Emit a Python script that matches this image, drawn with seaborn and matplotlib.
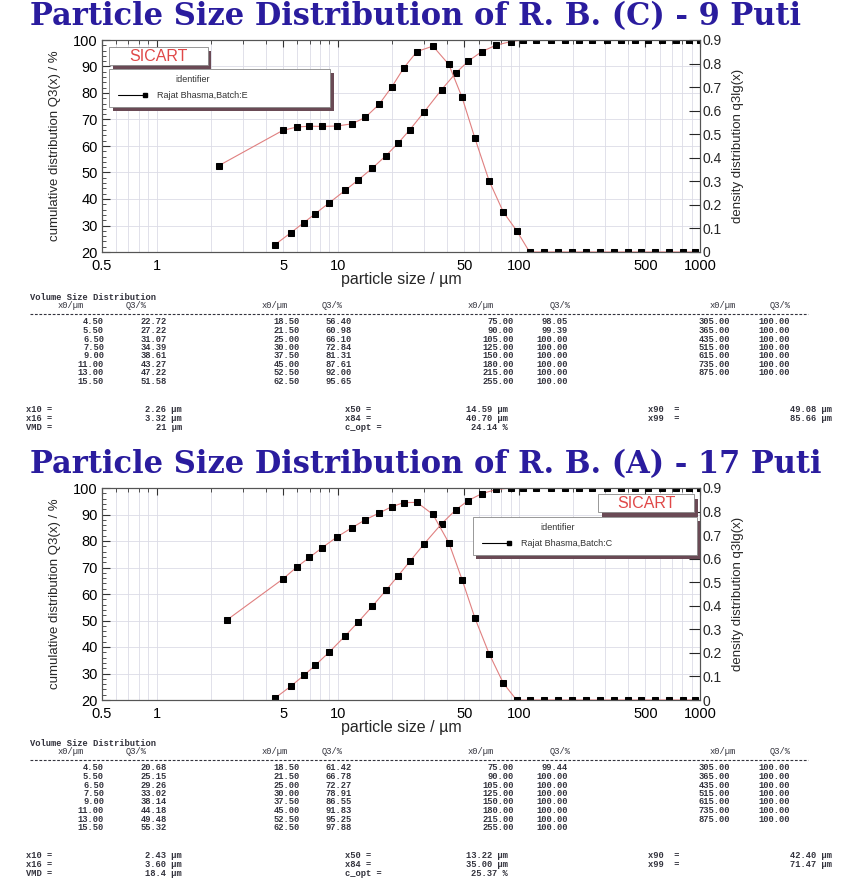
import matplotlib
matplotlib.use("Agg")
import matplotlib.pyplot as plt
import seaborn as sns
from matplotlib.lines import Line2D
from matplotlib.patches import Rectangle
from matplotlib.ticker import FixedLocator, NullFormatter, MultipleLocator

# table sizes x0 / um
sizes = [4.5, 5.5, 6.5, 7.5, 9.0, 11.0, 13.0, 15.5, 18.5, 21.5, 25.0, 30.0,
         37.5, 45.0, 52.5, 62.5, 75.0, 90.0, 105.0, 125.0, 150.0, 180.0,
         215.0, 255.0, 305.0, 365.0, 435.0, 515.0, 615.0, 735.0, 875.0]

# cumulative Q3 / %  (9 Puti, batch E)
q3_e = [22.72, 27.22, 31.07, 34.39, 38.61, 43.27, 47.22, 51.58, 56.40, 60.98,
        66.10, 72.84, 81.31, 87.61, 92.00, 95.65, 98.05, 99.39, 100.00, 100.00,
        100.00, 100.00, 100.00, 100.00, 100.00, 100.00, 100.00, 100.00, 100.00,
        100.00, 100.00]

# cumulative Q3 / %  (17 Puti, batch C)
q3_c = [20.68, 25.15, 29.26, 33.02, 38.14, 44.18, 49.48, 55.32, 61.42, 66.78,
        72.27, 78.91, 86.55, 91.83, 95.25, 97.88, 99.44, 100.00, 100.00, 100.00,
        100.00, 100.00, 100.00, 100.00, 100.00, 100.00, 100.00, 100.00, 100.00,
        100.00, 100.00]

# last cumulative point at the top of the range
end_size = [1000.0]
end_q3 = [100.0]

# density q3lg
dens_x_e = [2.2, 4.97, 5.98, 6.98, 8.22, 9.95, 11.96, 14.19, 16.93, 19.94,
            23.19, 27.39, 33.54, 41.08, 48.61, 57.28, 68.47, 82.16, 97.21,
            114.6, 136.9, 164.3, 196.7, 234.1, 278.9, 333.7, 398.5, 473.3,
            562.8, 672.4, 802.0, 935.0]
dens_e = [0.366, 0.516, 0.531, 0.534, 0.533, 0.535, 0.544, 0.571, 0.627, 0.702,
          0.782, 0.851, 0.874, 0.796, 0.656, 0.482, 0.303, 0.169, 0.091,
          0, 0, 0, 0, 0, 0, 0, 0, 0, 0, 0, 0, 0]

dens_x_c = [2.45, 4.97, 5.98, 6.98, 8.22, 9.95, 11.96, 14.19, 16.93, 19.94,
            23.19, 27.39, 33.54, 41.08, 48.61, 57.28, 68.47, 82.16, 97.21,
            114.6, 136.9, 164.3, 196.7, 234.1, 278.9, 333.7, 398.5, 473.3,
            562.8, 672.4, 802.0, 935.0]
dens_c = [0.34, 0.513, 0.566, 0.605, 0.647, 0.693, 0.731, 0.765, 0.794, 0.821,
          0.838, 0.839, 0.788, 0.667, 0.511, 0.347, 0.197, 0.071,
          0, 0, 0, 0, 0, 0, 0, 0, 0, 0, 0, 0, 0, 0]

stats_e = [("x10 =", "2.26 µm", "x50 =", "14.59 µm", "x90  =", "49.08 µm"),
           ("x16 =", "3.32 µm", "x84 =", "40.70 µm", "x99  =", "85.66 µm"),
           ("VMD =", "21 µm", "c_opt =", "24.14 %", "", "")]
stats_c = [("x10 =", "2.43 µm", "x50 =", "13.22 µm", "x90  =", "42.40 µm"),
           ("x16 =", "3.60 µm", "x84 =", "35.00 µm", "x99  =", "71.47 µm"),
           ("VMD =", "18.4 µm", "c_opt =", "25.37 %", "", "")]

x_ticks = [0.5, 1, 5, 10, 50, 100, 500, 1000]
x_tick_labels = ["0.5", "1", "5", "10", "50", "100", "500", "1000"]

W, H = 842, 890
RED = "#e08080"
BLUE = "#2a1c9e"
TXT = "#33333d"
MONO = "Liberation Mono"
SANS = "Liberation Sans"


def px(x, y):
    return x / W, 1 - y / H


def draw_panel(fig, top, title, q3, dx, dy, label, right_side):
    fig.text(*px(30, top - 23), title, fontsize=22, fontweight="bold",
             family="DejaVu Serif", color=BLUE, va="center", ha="left")

    left, bottom = px(102, top + 212)
    ax = fig.add_axes([left, bottom, 598 / W, 212 / H])
    ax2 = ax.twinx()

    sns.lineplot(x=sizes + end_size, y=q3 + end_q3, ax=ax, color=RED, lw=0.8,
                 marker="s", markersize=4.5, markerfacecolor="black",
                 markeredgecolor="black", estimator=None, sort=False)
    sns.lineplot(x=dx, y=dy, ax=ax2, color=RED, lw=0.8,
                 marker="s", markersize=4.5, markerfacecolor="black",
                 markeredgecolor="black", estimator=None, sort=False)

    ax.set_xscale("log")
    ax.set_xlim(0.5, 1000)
    ax.set_ylim(20, 100)
    ax2.set_ylim(0, 0.9)
    ax.xaxis.set_major_locator(FixedLocator(x_ticks))
    ax.set_xticklabels(x_tick_labels)
    minors = [m * 10 ** e for e in range(-1, 3) for m in range(2, 10)]
    ax.xaxis.set_minor_locator(FixedLocator([v for v in minors if 0.5 <= v <= 1000 and v not in x_ticks]))
    ax.xaxis.set_minor_formatter(NullFormatter())
    ax.yaxis.set_major_locator(MultipleLocator(10))
    ax.yaxis.set_minor_locator(MultipleLocator(2))
    ax2.set_yticks([0, 0.1, 0.2, 0.3, 0.4, 0.5, 0.6, 0.7, 0.8, 0.9])
    ax2.set_yticklabels(["0", "0.1", "0.2", "0.3", "0.4", "0.5", "0.6", "0.7", "0.8", "0.9"])

    ax.grid(True, which="both", axis="x", color="#dcdce6", lw=0.6)
    ax.grid(True, which="major", axis="y", color="#dcdce6", lw=0.6)
    ax.set_axisbelow(True)

    ax.tick_params(axis="both", which="both", direction="in", top=True,
                   labelsize=10.5, colors="#333333", labelcolor="black")
    ax.tick_params(axis="x", which="major", length=5, pad=5)
    ax.tick_params(axis="x", which="minor", length=3)
    ax.tick_params(axis="y", which="major", length=6, pad=3)
    ax.tick_params(axis="y", which="minor", length=3)
    ax2.tick_params(axis="y", direction="in", length=8, labelsize=10, pad=2)
    for a in (ax, ax2):
        for s in a.spines.values():
            s.set_color("#555555")
            s.set_linewidth(0.8)

    ax.set_xlabel("particle size / µm", fontsize=11.5, labelpad=-1)
    ax.set_ylabel("cumulative distribution Q3(x) / %", fontsize=9.5, labelpad=9)
    ax2.set_ylabel("density distribution q3lg(x)", fontsize=9.5, labelpad=7)

    # SICART tag and legend box
    if right_side:
        sx, sy, sw, sh = 0.83, 0.885, 0.16, 0.085
        lx, ly, lw_, lh = 0.62, 0.685, 0.375, 0.18
    else:
        sx, sy, sw, sh = 0.012, 0.882, 0.165, 0.085
        lx, ly, lw_, lh = 0.012, 0.685, 0.37, 0.18
    for (x0, y0, w0, h0) in [(sx, sy, sw, sh), (lx, ly, lw_, lh)]:
        ax2.add_patch(Rectangle((x0 + 0.006, y0 - 0.02), w0, h0, transform=ax2.transAxes,
                                facecolor="#6a4a55", edgecolor="none", zorder=5))
        ax2.add_patch(Rectangle((x0, y0), w0, h0, transform=ax2.transAxes,
                                facecolor="white", edgecolor="#888888", lw=0.6, zorder=6))
    ax2.text(sx + sw / 2, sy + sh / 2, "SICART", transform=ax2.transAxes,
             color="#e04848", fontsize=11.5, family=SANS, ha="center", va="center", zorder=7)
    ax2.text(lx + lw_ * 0.3, ly + lh * 0.72, "identifier", transform=ax2.transAxes,
             fontsize=6.5, family=SANS, color="#333333", ha="left", va="center", zorder=7)
    ax2.add_line(Line2D([lx + 0.015, lx + 0.06], [ly + lh * 0.3] * 2, transform=ax2.transAxes,
                        color="black", lw=0.8, marker="s", markersize=3.5,
                        markevery=[1], zorder=7))
    ax2.text(lx + 0.08, ly + lh * 0.3, label, transform=ax2.transAxes,
             fontsize=6.5, family=SANS, color="#333333", ha="left", va="center", zorder=7)
    return ax, ax2


def draw_table(fig, y0, q3, stats):
    kw = dict(family=MONO, fontsize=6.3, color=TXT, va="center")
    fig.text(*px(30, y0), "Volume Size Distribution", ha="left", fontweight="bold",
             **kw)
    heads = [(58, "x0/µm"), (126, "Q3/%"), (262, "x0/µm"), (322, "Q3/%"),
             (468, "x0/µm"), (550, "Q3/%"), (710, "x0/µm"), (770, "Q3/%")]
    for hx, htxt in heads:
        fig.text(*px(hx, y0 + 9), htxt, ha="left", **kw)
    fig.add_artist(Line2D([30 / W, 808 / W], [1 - (y0 + 17) / H] * 2,
                          color=TXT, lw=0.8, ls=(0, (2.5, 1.5))))
    col_x = [(104, 167), (300, 352), (514, 568), (730, 790)]
    for c, (xr, qr) in enumerate(col_x):
        for r in range(8):
            i = c * 8 + r
            if i >= len(sizes):
                break
            yy = y0 + 25 + r * 8.5
            fig.text(*px(xr, yy), f"{sizes[i]:.2f}", ha="right", fontweight="bold", **kw)
            fig.text(*px(qr, yy), f"{q3[i]:.2f}", ha="right", fontweight="bold", **kw)
    for r, row in enumerate(stats):
        yy = y0 + 113 + r * 8.6
        a, b, c_, d, e, f = row
        fig.text(*px(26, yy), a, ha="left", fontweight="bold", **kw)
        fig.text(*px(182, yy), b, ha="right", fontweight="bold", **kw)
        fig.text(*px(345, yy), c_, ha="left", fontweight="bold", **kw)
        fig.text(*px(508, yy), d, ha="right", fontweight="bold", **kw)
        if e:
            fig.text(*px(648, yy), e, ha="left", fontweight="bold", **kw)
            fig.text(*px(832, yy), f, ha="right", fontweight="bold", **kw)


sns.set_style("white")
plt.rcParams["font.family"] = [SANS, "DejaVu Sans"]

fig = plt.figure(figsize=(W / 100, H / 100), dpi=100)
fig.patch.set_facecolor("white")

draw_panel(fig, 40, "Particle Size Distribution of R. B. (C) - 9 Puti", q3_e,
           dens_x_e, dens_e, "Rajat Bhasma,Batch:E", False)
draw_table(fig, 297, q3_e, stats_e)

draw_panel(fig, 488, "Particle Size Distribution of R. B. (A) - 17 Puti", q3_c,
           dens_x_c, dens_c, "Rajat Bhasma,Batch:C", True)
draw_table(fig, 743, q3_c, stats_c)

fig.savefig("out.png", dpi=100, facecolor="white")
